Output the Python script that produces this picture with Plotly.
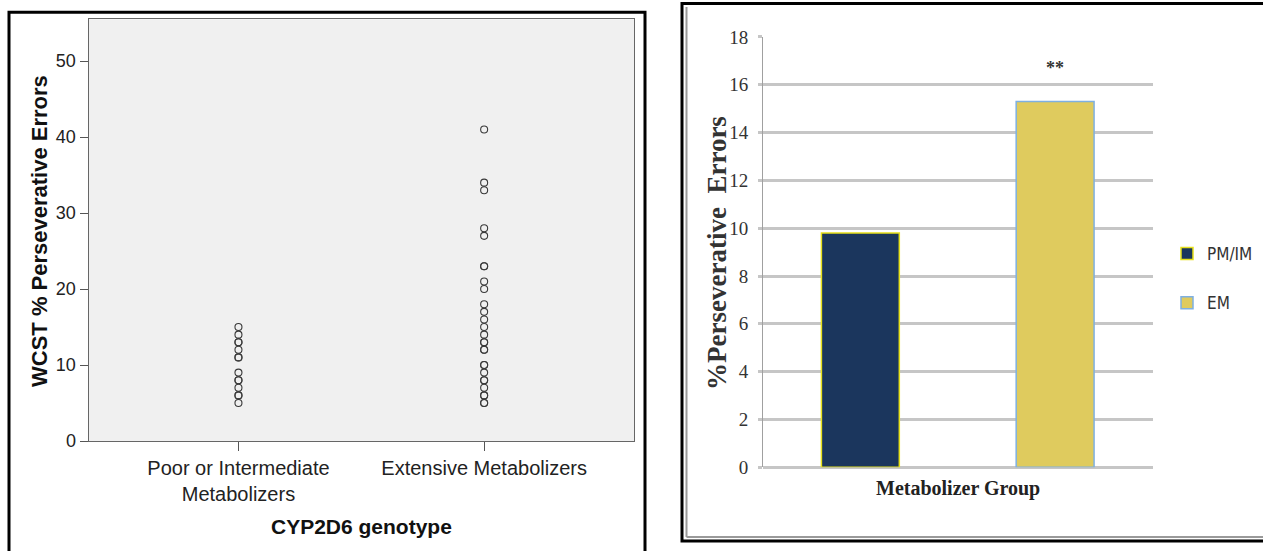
import plotly.graph_objects as go

W, H = 1263, 551

# Left panel: individual WCST scores by CYP2D6 genotype
genotype_labels = ["Poor or Intermediate<br>Metabolizers", "Extensive Metabolizers"]
pm_errors = [15, 14, 13, 13, 12, 11, 11, 9, 8, 8, 7, 6, 6, 5]
em_errors = [41, 34, 33, 28, 27, 23, 23, 21, 20, 18, 17, 16, 15, 14, 13, 13,
             12, 12, 10, 10, 9, 8, 8, 7, 6, 6, 5, 5]

# Right panel: mean % perseverative errors by metabolizer group
groups = ["PM/IM", "EM"]
group_means = [9.8, 15.3]
group_fill = ["#1b365d", "#dfcb5e"]
group_edge = ["#e6e01a", "#7eb0e2"]


def fx(px):
    return px / W


def fy(py):
    return 1 - py / H


fig = go.Figure()

fig.add_trace(go.Scatter(
    x=[genotype_labels[0]] * len(pm_errors), y=pm_errors,
    mode="markers", showlegend=False, xaxis="x", yaxis="y",
    marker=dict(symbol="circle-open", size=7, color="#3a3a3a", line=dict(width=1.1)),
))
fig.add_trace(go.Scatter(
    x=[genotype_labels[1]] * len(em_errors), y=em_errors,
    mode="markers", showlegend=False, xaxis="x", yaxis="y",
    marker=dict(symbol="circle-open", size=7, color="#3a3a3a", line=dict(width=1.1)),
))

for i, g in enumerate(groups):
    fig.add_trace(go.Bar(
        x=[g], y=[group_means[i]], name=g, width=0.4,
        xaxis="x2", yaxis="y2", legendgroup=g,
        marker=dict(color=group_fill[i], line=dict(color=group_edge[i], width=1.5)),
    ))

sans = "Liberation Sans, Arial, sans-serif"
serif = "Liberation Serif, Times New Roman, serif"
narrow = "Liberation Sans Narrow, DejaVu Sans Condensed, Liberation Sans, sans-serif"

fig.update_layout(
    width=W, height=H,
    margin=dict(l=0, r=0, t=0, b=0, pad=0, autoexpand=False),
    paper_bgcolor="white", plot_bgcolor="rgba(0,0,0,0)",
    barmode="overlay",
    xaxis=dict(
        domain=[fx(88.6), fx(634)], anchor="y", type="category",
        categoryorder="array", categoryarray=genotype_labels,
        range=[-0.61, 1.61], automargin=False,
        showline=True, mirror=True, linecolor="#666", linewidth=1.2,
        ticks="outside", ticklen=9, tickcolor="#555",
        tickfont=dict(family=sans, size=20, color="#222"),
        showgrid=False, zeroline=False,
    ),
    yaxis=dict(
        domain=[fy(441), fy(19.3)], anchor="x", automargin=False,
        range=[0, 55.5], tickvals=[0, 10, 20, 30, 40, 50],
        showline=True, mirror=True, linecolor="#666", linewidth=1.2,
        ticks="outside", ticklen=8, tickcolor="#555",
        tickfont=dict(family=sans, size=18, color="#222"),
        showgrid=False, zeroline=False,
    ),
    xaxis2=dict(
        domain=[fx(763), fx(1152.5)], anchor="y2", type="category",
        categoryorder="array", categoryarray=groups,
        range=[-0.5, 1.5], automargin=False,
        showticklabels=False, ticks="", showline=False,
        showgrid=False, zeroline=False,
    ),
    yaxis2=dict(
        domain=[fy(467.3), fy(36.9)], anchor="x2", automargin=False,
        range=[0, 18], dtick=2,
        showline=True, linecolor="#a0a0a0", linewidth=1,
        ticks="outside", ticklen=4, tickwidth=3, tickcolor="#c6c6c6",
        ticklabelstandoff=6,
        tickfont=dict(family=serif, size=19, color="#333"),
        showgrid=True, gridcolor="#c6c6c6", gridwidth=3,
        zeroline=True, zerolinecolor="#c6c6c6", zerolinewidth=3,
    ),
    legend=dict(
        x=fx(1167), y=fy(236), xanchor="left", yanchor="top",
        font=dict(family=narrow, size=17, color="#333"),
        bgcolor="rgba(0,0,0,0)", itemwidth=30, tracegroupgap=24,
    ),
    shapes=[
        # grey plotting area of the scatter panel
        dict(type="rect", xref="x domain", yref="y domain", x0=0, x1=1, y0=0, y1=1,
             fillcolor="#f0f0f0", line=dict(width=0), layer="below"),
        # panel frames
        dict(type="rect", xref="paper", yref="paper",
             x0=fx(9), x1=fx(645), y0=fy(12.3), y1=fy(570),
             line=dict(color="black", width=3)),
        dict(type="rect", xref="paper", yref="paper",
             x0=fx(682), x1=fx(1275), y0=fy(541), y1=fy(3.5),
             line=dict(color="black", width=3)),
        dict(type="line", xref="paper", yref="paper",
             x0=fx(686.5), x1=fx(686.5), y0=fy(7), y1=fy(537),
             line=dict(color="#9a9a9a", width=2)),
        dict(type="line", xref="paper", yref="paper",
             x0=fx(686.5), x1=fx(1263), y0=fy(537), y1=fy(537),
             line=dict(color="#9a9a9a", width=2)),
    ],
    annotations=[
        dict(text="<b>WCST % Perseverative Errors</b>", textangle=-90,
             xref="paper", yref="paper", x=fx(39), y=fy(231),
             xanchor="center", yanchor="middle", showarrow=False,
             font=dict(family=sans, size=22, color="#111")),
        dict(text="<b>CYP2D6 genotype</b>",
             xref="paper", yref="paper", x=fx(361), y=fy(526),
             xanchor="center", yanchor="middle", showarrow=False,
             font=dict(family=sans, size=21, color="#111")),
        dict(text="<b>%Perseverative  Errors</b>", textangle=-90,
             xref="paper", yref="paper", x=fx(717), y=fy(253),
             xanchor="center", yanchor="middle", showarrow=False,
             font=dict(family=serif, size=27, color="#333")),
        dict(text="<b>Metabolizer Group</b>",
             xref="paper", yref="paper", x=fx(958), y=fy(488),
             xanchor="center", yanchor="middle", showarrow=False,
             font=dict(family=serif, size=20, color="#222")),
        dict(text="<b>**</b>", xref="x2", yref="y2", x=groups[1], y=16.7,
             xanchor="center", yanchor="middle", showarrow=False,
             font=dict(family=serif, size=18, color="#333")),
    ],
)

fig.write_html("out.html")
